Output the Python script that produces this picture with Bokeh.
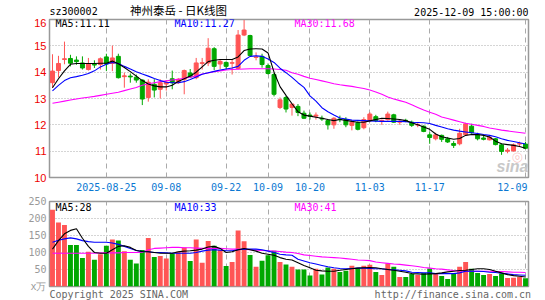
from bokeh.plotting import figure
from bokeh.models import Range1d, FixedTicker, Label, ColumnDataSource, Title
from bokeh.layouts import column
from bokeh.embed import file_html
from bokeh.resources import INLINE

# ---------------- data ----------------
tick_pos = [9, 19, 29, 36, 43, 53, 63, 79]
tick_labels = ["2025-08-25", "09-08", "09-22", "10-09", "10-20", "11-03", "11-17", "12-09"]
price_ticks = [10, 11, 12, 13, 14, 15, 16]
vol_ticks = [0, 50, 100, 150, 200, 250]
vol_tick_labels = ["x万", "50", "100", "150", "200", "250"]

open_ = [13.60, 14.06, 14.48, 14.52, 14.46, 14.35, 14.10, 14.30, 14.29, 14.58,
         14.33, 14.60, 13.83, 13.85, 13.81, 13.70, 13.04, 13.54, 13.35, 13.55,
         13.75, 13.60, 13.73, 13.97, 13.79, 14.33, 14.35, 14.89, 14.31, 14.37,
         14.34, 14.14, 15.41, 15.39, 14.56, 14.60, 14.25, 13.91, 12.66, 13.04,
         12.66, 12.70, 12.44, 12.37, 12.33, 12.25, 12.16, 12.00, 12.22, 12.20,
         11.98, 12.08, 11.89, 12.16, 12.31, 12.14, 12.20, 12.38, 12.10, 12.17,
         12.10, 11.99, 11.95, 11.62, 11.47, 11.60, 11.47, 11.29, 11.28, 11.62,
         11.95, 11.62, 11.50, 11.43, 11.47, 11.24, 11.00, 11.01, 11.27, 11.27]
high = [14.68, 14.62, 15.16, 14.66, 14.60, 14.60, 14.54, 14.45, 14.56, 14.70,
        15.01, 14.70, 13.98, 13.95, 13.91, 13.73, 13.73, 13.73, 13.73, 13.70,
        14.06, 13.78, 14.10, 14.12, 14.54, 14.54, 15.29, 14.95, 14.50, 14.41,
        14.48, 15.60, 15.98, 15.42, 14.75, 14.70, 14.33, 13.98, 13.04, 13.10,
        12.79, 12.79, 12.54, 12.47, 12.47, 12.35, 12.22, 12.29, 12.35, 12.29,
        12.16, 12.13, 12.29, 12.48, 12.38, 12.20, 12.50, 12.42, 12.20, 12.23,
        12.16, 12.07, 11.98, 11.72, 11.70, 11.63, 11.54, 11.38, 11.85, 12.08,
        12.04, 11.70, 11.60, 11.60, 11.50, 11.29, 11.12, 11.29, 11.36, 11.35]
low = [13.40, 13.80, 14.30, 14.22, 14.28, 14.10, 14.06, 14.16, 14.10, 14.04,
       14.04, 13.76, 13.41, 13.60, 13.60, 12.75, 12.88, 13.04, 13.00, 13.30,
       13.35, 13.55, 13.16, 13.79, 13.73, 14.10, 14.23, 14.08, 14.12, 14.10,
       13.91, 14.10, 15.37, 14.60, 14.45, 14.17, 13.91, 13.08, 12.60, 12.47,
       12.35, 12.33, 12.22, 12.20, 12.20, 12.15, 11.82, 11.85, 12.10, 11.91,
       11.79, 11.79, 11.83, 12.10, 12.10, 12.00, 12.16, 12.08, 12.00, 12.10,
       11.92, 11.91, 11.72, 11.28, 11.41, 11.35, 11.31, 11.12, 11.22, 11.60,
       11.66, 11.41, 11.41, 11.41, 11.22, 10.86, 10.92, 10.98, 11.16, 11.09]
close = [14.04, 14.33, 14.51, 14.34, 14.40, 14.16, 14.31, 14.27, 14.51, 14.31,
         14.54, 13.79, 13.86, 13.82, 13.70, 12.98, 13.62, 13.32, 13.60, 13.62,
         13.60, 13.73, 14.06, 13.82, 14.35, 14.36, 14.91, 14.22, 14.41, 14.22,
         14.36, 15.41, 15.60, 14.63, 14.58, 14.29, 13.95, 13.16, 12.95, 12.60,
         12.79, 12.47, 12.25, 12.33, 12.37, 12.22, 12.00, 12.25, 12.20, 12.00,
         12.10, 11.83, 12.20, 12.41, 12.16, 12.17, 12.41, 12.10, 12.14, 12.16,
         11.98, 12.01, 11.75, 11.52, 11.62, 11.45, 11.35, 11.22, 11.68, 12.04,
         11.70, 11.47, 11.45, 11.53, 11.25, 10.99, 11.04, 11.24, 11.29, 11.11]
ma5 = [13.41, 13.75, 14.05, 14.30, 14.33, 14.33, 14.33, 14.33, 14.34, 14.34,
       14.42, 14.32, 14.18, 14.02, 13.85, 13.68, 13.55, 13.48, 13.44, 13.44,
       13.50, 13.65, 13.75, 13.85, 14.00, 14.20, 14.40, 14.45, 14.48, 14.48,
       14.48, 14.58, 14.82, 14.88, 14.89, 14.88, 14.73, 14.00, 13.45, 13.12,
       12.80, 12.50, 12.37, 12.33, 12.29, 12.25, 12.20, 12.16, 12.20, 12.17,
       12.13, 12.10, 12.10, 12.15, 12.20, 12.25, 12.24, 12.22, 12.20, 12.16,
       12.08, 12.00, 11.92, 11.83, 11.65, 11.55, 11.50, 11.45, 11.48, 11.60,
       11.63, 11.63, 11.60, 11.54, 11.38, 11.28, 11.25, 11.22, 11.18, 11.11]
ma10 = [13.29, 13.50, 13.68, 13.79, 13.83, 13.88, 13.95, 14.05, 14.20, 14.30,
        14.37, 14.33, 14.22, 14.12, 14.02, 13.93, 13.85, 13.76, 13.68, 13.62,
        13.60, 13.60, 13.64, 13.72, 13.82, 13.92, 13.98, 14.03, 14.08, 14.12,
        14.16, 14.22, 14.45, 14.60, 14.62, 14.60, 14.50, 14.37, 14.15, 13.98,
        13.80, 13.60, 13.42, 13.10, 12.90, 12.65, 12.50, 12.37, 12.26, 12.22,
        12.18, 12.17, 12.16, 12.15, 12.14, 12.13, 12.13, 12.13, 12.13, 12.12,
        12.10, 12.09, 12.08, 12.05, 11.98, 11.92, 11.85, 11.80, 11.76, 11.73,
        11.70, 11.67, 11.63, 11.60, 11.55, 11.47, 11.41, 11.37, 11.32, 11.27]
ma30 = [12.82, 12.86, 12.90, 12.94, 12.98, 13.02, 13.05, 13.08, 13.12, 13.16,
        13.20, 13.24, 13.30, 13.36, 13.42, 13.50, 13.56, 13.60, 13.64, 13.67,
        13.70, 13.73, 13.77, 13.81, 13.86, 13.93, 13.97, 14.02, 14.05, 14.08,
        14.10, 14.11, 14.12, 14.13, 14.13, 14.13, 14.13, 14.12, 14.10, 14.07,
        13.98, 13.92, 13.84, 13.77, 13.72, 13.67, 13.62, 13.56, 13.52, 13.49,
        13.46, 13.42, 13.38, 13.32, 13.25, 13.16, 13.06, 12.98, 12.92, 12.86,
        12.76, 12.66, 12.56, 12.48, 12.40, 12.30, 12.24, 12.18, 12.12, 12.06,
        12.02, 11.98, 11.94, 11.88, 11.84, 11.80, 11.77, 11.74, 11.71, 11.68]
volume = [226, 188, 181, 122, 122, 84, 102, 79, 95, 120,
          138, 135, 104, 79, 68, 107, 143, 87, 90, 82,
          97, 102, 115, 75, 138, 70, 134, 120, 107, 60,
          72, 165, 133, 93, 58, 76, 92, 105, 72, 65,
          58, 50, 50, 32, 52, 35, 56, 52, 43, 46,
          61, 55, 61, 64, 43, 34, 68, 58, 28, 28,
          37, 34, 40, 53, 38, 31, 22, 40, 58, 72,
          52, 40, 34, 37, 31, 38, 25, 26, 28, 24]
vma5 = [110, 135, 155, 165, 170, 142, 118, 100, 98, 98,
        108, 118, 120, 115, 106, 103, 102, 100, 98, 98,
        98, 102, 104, 105, 107, 110, 116, 118, 112, 100,
        102, 108, 112, 108, 104, 98, 95, 92, 85, 80,
        78, 70, 62, 55, 48, 46, 45, 45, 48, 50,
        52, 54, 55, 56, 55, 52, 50, 48, 45, 42,
        38, 37, 36, 37, 38, 40, 43, 45, 47, 48,
        50, 52, 52, 50, 45, 40, 35, 32, 30, 28]
vma10 = [130, 136, 140, 143, 140, 135, 132, 130, 130, 130,
         128, 124, 118, 112, 106, 103, 102, 100, 100, 99,
         98, 98, 98, 98, 100, 104, 107, 108, 107, 105,
         105, 108, 110, 110, 110, 108, 104, 100, 95, 93,
         92, 80, 75, 70, 66, 62, 58, 55, 53, 52,
         53, 54, 54, 53, 52, 52, 50, 49, 48, 46,
         42, 41, 40, 40, 38, 38, 38, 38, 40, 45,
         45, 45, 44, 42, 41, 39, 37, 35, 34, 33]
vma30 = [98, 98, 98, 98, 98, 98, 98, 98, 99, 99,
         99, 99, 100, 100, 100, 101, 108, 112, 113, 114,
         115, 115, 114, 114, 113, 112, 112, 112, 112, 111,
         110, 110, 109, 108, 107, 106, 105, 104, 103, 101,
         100, 97, 93, 91, 89, 87, 86, 85, 84, 82,
         80, 78, 77, 76, 72, 70, 68, 66, 65, 63,
         61, 59, 56, 54, 52, 51, 49, 47, 46, 45,
         45, 45, 45, 45, 44, 44, 43, 42, 42, 41]

# ---------------- styling ----------------
RED = "#ff5555"
GREEN = "#00a800"
MONO = "DejaVu Sans Mono"
GRID = "#aaaaaa"
BORDER = "#999999"
AXIS_RED = "#ee0000"
NBSP = "\u00a0"

n = len(close)
xs = list(range(n))
colors = [RED if c >= o else GREEN for o, c in zip(open_, close)]
src = ColumnDataSource(dict(
    x=xs, o=open_, h=high, l=low, c=close,
    top=[max(o, c) for o, c in zip(open_, close)],
    bot=[min(o, c) for o, c in zip(open_, close)],
    color=colors, vol=volume,
    ma5=ma5, ma10=ma10, ma30=ma30, vma5=vma5, vma10=vma10, vma30=vma30,
))

xr = Range1d(-0.5, n - 0.5)


def lab(fig, x, y, text, color, align="left", size="10px", font=MONO, style="normal",
        baseline="middle", alpha=1.0):
    fig.add_layout(Label(x=x, y=y, x_units="screen", y_units="screen", text=text,
                         text_align=align, text_baseline=baseline, text_color=color,
                         text_font=font, text_font_size=size, text_font_style=style,
                         text_alpha=alpha))


def clean_axes(ax, standoff):
    ax.axis_line_color = None
    ax.major_tick_line_color = None
    ax.minor_tick_line_color = None
    ax.major_tick_out = 0
    ax.major_tick_in = 0
    ax.minor_tick_out = 0
    ax.minor_tick_in = 0
    ax.major_label_standoff = standoff


# ---------------- header (its frame is aligned with the panels: x 49..528) ----------------
HDR = 18
hd = figure(width=545, height=HDR, x_range=Range1d(0, 479), y_range=Range1d(0, HDR),
            output_backend="svg", toolbar_location=None,
            x_axis_location=None, y_axis_location=None,
            min_border_left=49, min_border_right=17, min_border_top=0, min_border_bottom=0)
hd.outline_line_color = None
hd.xgrid.visible = False
hd.ygrid.visible = False
lab(hd, 0, 7, "sz300002", "#000000")
lab(hd, 129, 9, "神州泰岳 - 日K线图", "#000000", align="center", size="11.5px",
    font="Noto Sans CJK SC")
lab(hd, 479, 6, "2025-12-09 15:00:00", "#000000", align="right")

# ---------------- price panel ----------------
p = figure(width=545, height=177, x_range=xr, y_range=Range1d(10, 16),
           output_backend="svg", toolbar_location=None,
           min_border_left=49, min_border_right=17, min_border_top=1, min_border_bottom=17)
p.outline_line_color = BORDER
p.outline_line_width = 1.5

p.segment(x0="x", y0="l", x1="x", y1="h", line_color="color", line_width=1, source=src)
p.vbar(x="x", width=0.66, top="top", bottom="bot", fill_color="color",
       line_color="color", line_width=1, source=src)
p.line("x", "ma30", line_color="#ff00ff", line_width=1.1, source=src)
p.line("x", "ma10", line_color="#0000ff", line_width=1.1, source=src)
p.line("x", "ma5", line_color="#000000", line_width=1.1, source=src)

# the last date label sits flush with the right edge, as in the original
p.xaxis.ticker = FixedTicker(ticks=tick_pos)
p.xaxis.major_label_overrides = {
    t: (s + NBSP * 3 if t == tick_pos[-1] else s) for t, s in zip(tick_pos, tick_labels)}
clean_axes(p.xaxis, 4)
p.xaxis.major_label_text_color = "#0a78d2"
p.xaxis.major_label_text_font = MONO
p.xaxis.major_label_text_font_size = "10px"

p.yaxis.ticker = FixedTicker(ticks=price_ticks)
clean_axes(p.yaxis, 3)
p.yaxis.major_label_text_color = AXIS_RED
p.yaxis.major_label_text_font = "Liberation Sans"
p.yaxis.major_label_text_font_size = "11px"

p.xgrid.ticker = FixedTicker(ticks=tick_pos)
p.xgrid.grid_line_color = GRID
p.xgrid.grid_line_dash = "5 4"
p.ygrid.ticker = FixedTicker(ticks=[11, 12, 13, 14, 15])
p.ygrid.grid_line_color = GRID
p.ygrid.grid_line_dash = "1 2"

FH = 159
lab(p, 6, FH - 5, "MA5:%.2f" % ma5[-1], "#000000")
lab(p, 125, FH - 5, "MA10:%.2f" % ma10[-1], "#0000ff")
lab(p, 245, FH - 5, "MA30:%.2f" % ma30[-1], "#ff00ff")
# sina watermark
lab(p, 462, 21, "◎", "#f08080", size="13px", font="DejaVu Sans", alpha=0.45)
lab(p, 447, 11, "sina", "#c8c8c8", size="16px", font="Liberation Sans", style="bold italic")

# ---------------- volume panel ----------------
v = figure(width=545, height=105, x_range=xr, y_range=Range1d(0, 250),
           output_backend="svg", toolbar_location=None, x_axis_location=None,
           min_border_left=49, min_border_right=17, min_border_top=6, min_border_bottom=14)
v.outline_line_color = BORDER
v.outline_line_width = 1.5
v.vbar(x="x", width=0.82, top="vol", bottom=0, fill_color="color", line_color=None, source=src)
v.line("x", "vma30", line_color="#ff00ff", line_width=1.1, source=src)
v.line("x", "vma10", line_color="#0000ff", line_width=1.1, source=src)
v.line("x", "vma5", line_color="#000000", line_width=1.1, source=src)

v.yaxis.ticker = FixedTicker(ticks=vol_ticks)
v.yaxis.major_label_overrides = {t: s for t, s in zip(vol_ticks, vol_tick_labels)}
clean_axes(v.yaxis, 3)
v.yaxis.major_label_text_color = "#999999"
v.yaxis.major_label_text_font = MONO
v.yaxis.major_label_text_font_size = "10px"

v.xgrid.ticker = FixedTicker(ticks=tick_pos)
v.xgrid.grid_line_color = GRID
v.xgrid.grid_line_dash = "5 4"
v.ygrid.ticker = FixedTicker(ticks=[50, 100, 150, 200])
v.ygrid.grid_line_color = GRID
v.ygrid.grid_line_dash = "1 2"

VH = 85
lab(v, 6, VH - 6, "MA5:%d" % vma5[-1], "#000000")
lab(v, 125, VH - 6, "MA10:%d" % vma10[-1], "#0000ff")
lab(v, 245, VH - 6, "MA30:%d" % vma30[-1], "#ff00ff")

footer = "Copyright 2025 SINA.COM" + NBSP * 31 + "http://finance.sina.com.cn"
v.add_layout(Title(text=footer, align="left", text_font=MONO, text_font_size="10px",
                   text_color="#666666", text_font_style="normal", standoff=0,
                   offset=0), "below")

layout = column(hd, p, v, spacing=0)
open("out.html", "w").write(file_html(layout, INLINE))
